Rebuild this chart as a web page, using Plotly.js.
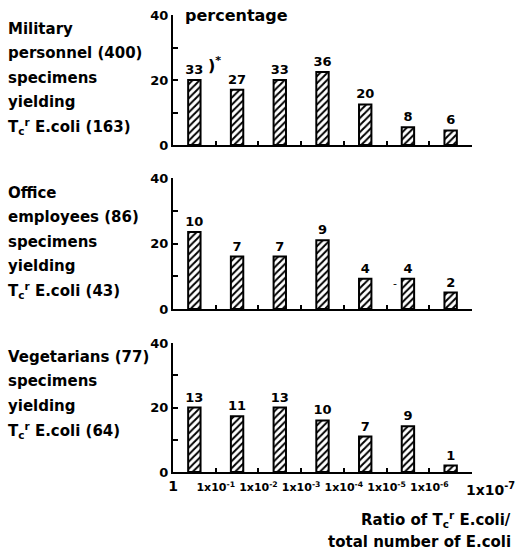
<!DOCTYPE html>
<html><head><meta charset="utf-8">
<script src="https://cdn.plot.ly/plotly-3.0.1.min.js"></script>
<style>html,body{margin:0;padding:0;background:#fff}</style>
</head><body><div id="chart" style="width:517px;height:552px"></div>
<script>
// ---- data ----
const ratioBins = ["1–1x10^-1","1x10^-1–1x10^-2","1x10^-2–1x10^-3","1x10^-3–1x10^-4","1x10^-4–1x10^-5","1x10^-5–1x10^-6","1x10^-6–1x10^-7"];
const edgeLabels = ["1","1x10<sup>-1</sup>","1x10<sup>-2</sup>","1x10<sup>-3</sup>","1x10<sup>-4</sup>","1x10<sup>-5</sup>","1x10<sup>-6</sup>","1x10<sup>-7</sup>"];
const militaryPct = [20, 17, 20, 22.5, 12.5, 5.5, 4.5];
const militaryCounts = [33, 27, 33, 36, 20, 8, 6];
const officePct = [23.5, 16, 16, 21, 9.2, 9.2, 5];
const officeCounts = [10, 7, 7, 9, 4, 4, 2];
const vegetarianPct = [20, 17.3, 20, 16, 11, 14.2, 2];
const vegetarianCounts = [13, 11, 13, 10, 7, 9, 1];
const groupLabels = [
  ["Military","personnel (400)","specimens","yielding","T<sub>c</sub><sup>r</sup> E.coli (163)"],
  ["Office","employees (86)","specimens","yielding","T<sub>c</sub><sup>r</sup> E.coli (43)"],
  ["Vegetarians (77)","specimens","yielding","T<sub>c</sub><sup>r</sup> E.coli (64)"]
];
const yTickVals = [0, 10, 20, 30, 40];
const yTickText = ["0", "", "20", "", "40"];

// ---- layout helpers ----
const W = 517, H = 552, L = 173, R = 45, T = 15, B = 80;
const pw = W - L - R, ph = H - T - B;
const px = x => (x - L) / pw;
const py = y => (H - B - y) / ph;
const FONT = "DejaVu Sans";
const xIdx = ratioBins.map((_, i) => i);
const edges = edgeLabels.map((_, i) => i - 0.5);
const lastEdge = edges.length - 1;

function barTrace(vals, counts, xa, ya) {
  return {
    type: "bar", x: xIdx, y: vals, xaxis: xa, yaxis: ya, width: 0.29,
    text: counts.map(String), textposition: "outside", cliponaxis: false,
    constraintext: "none",
    textfont: {family: FONT, size: 13, color: "#000", weight: "bold"},
    marker: {color: "#fff", line: {color: "#000", width: 2},
      pattern: {shape: "/", fgcolor: "#000", bgcolor: "#fff", size: 5, solidity: 0.4}},
    hoverinfo: "skip"
  };
}
const data = [
  barTrace(militaryPct, militaryCounts, "x", "y"),
  barTrace(officePct, officeCounts, "x2", "y2"),
  barTrace(vegetarianPct, vegetarianCounts, "x3", "y3")
];

function xAxis(anchor, showLabels) {
  const a = {
    anchor: anchor, domain: [0, 1], range: [-0.5, 6.5], showgrid: false, zeroline: false,
    showline: true, linewidth: 2, linecolor: "#000",
    ticks: "inside", ticklen: 4, tickwidth: 2, tickcolor: "#000",
    tickmode: "array", tickvals: edges, ticktext: edges.map(() => ""),
    showticklabels: false, fixedrange: true
  };
  if (showLabels) {
    a.showticklabels = true;
    a.tickangle = 0;
    a.ticktext = edgeLabels.map((t, i) =>
      i === 0 ? '<span style="font-size:14px">' + t + '</span>' : (i === lastEdge ? "" : t));
    a.tickfont = {family: FONT, size: 11, color: "#000", weight: "bold"};
    a.ticklabelstandoff = 4;
  }
  return a;
}
function yAxis(anchor, dom) {
  return {
    anchor: anchor, domain: dom, range: [0, 40], showgrid: false, zeroline: false,
    showline: true, linewidth: 2, linecolor: "#000",
    ticks: "inside", ticklen: 5, tickwidth: 2, tickcolor: "#000",
    tickmode: "array", tickvals: yTickVals, ticktext: yTickText,
    tickfont: {family: FONT, size: 13, color: "#000", weight: "bold"},
    ticklabelstandoff: 0, fixedrange: true
  };
}

const annotations = [];
const lineStarts = [29, 193, 357];
const lineStep = 24.4;
groupLabels.forEach((lines, g) => {
  lines.forEach((t, i) => {
    annotations.push({xref: "paper", yref: "paper", x: px(6), y: py(lineStarts[g] + i * lineStep),
      xanchor: "left", yanchor: "middle", text: t, showarrow: false,
      font: {family: FONT, size: 15, color: "#000", weight: "bold"}});
  });
});
// last ratio edge label, drawn larger and set off to the right of its tick
annotations.push({xref: "x3", yref: "y3", x: edges[lastEdge], y: 0, xanchor: "center", yanchor: "top",
  xshift: 18, yshift: -6, text: edgeLabels[lastEdge], showarrow: false,
  font: {family: FONT, size: 14, color: "#000", weight: "bold"}});
annotations.push({xref: "paper", yref: "paper", x: px(183), y: py(15), xanchor: "left", yanchor: "middle",
  text: "percentage", showarrow: false, font: {family: FONT, size: 16, color: "#000", weight: "bold"}});
annotations.push({xref: "x", yref: "y", x: xIdx[0], y: militaryPct[0], xanchor: "left", yanchor: "bottom",
  xshift: 12, yshift: 3, text: ")<sup>*</sup>", showarrow: false,
  font: {family: FONT, size: 16, color: "#000", weight: "bold"}});
annotations.push({xref: "x2", yref: "y2", x: xIdx[5], y: officePct[5], xanchor: "right", yanchor: "middle",
  xshift: -9, yshift: -5, text: "-", showarrow: false,
  font: {family: FONT, size: 11, color: "#000"}});
annotations.push({xref: "paper", yref: "paper", x: px(513), y: py(519), xanchor: "right", yanchor: "middle",
  text: "Ratio of T<sub>c</sub><sup>r</sup> E.coli/", showarrow: false,
  font: {family: FONT, size: 15, color: "#000", weight: "bold"}});
annotations.push({xref: "paper", yref: "paper", x: px(513), y: py(542), xanchor: "right", yanchor: "middle",
  text: "total number of E.coli", showarrow: false,
  font: {family: FONT, size: 15, color: "#000", weight: "bold"}});

const layout = {
  width: W, height: H, margin: {l: L, r: R, t: T, b: B},
  paper_bgcolor: "#fff", plot_bgcolor: "#fff", showlegend: false,
  font: {family: FONT, color: "#000"},
  xaxis: xAxis("y", false), xaxis2: xAxis("y2", false), xaxis3: xAxis("y3", true),
  yaxis: yAxis("x", [py(145), py(15)]),
  yaxis2: yAxis("x2", [py(309), py(178)]),
  yaxis3: yAxis("x3", [py(472), py(343)]),
  annotations: annotations
};
Plotly.newPlot("chart", data, layout, {staticPlot: true, displayModeBar: false});
</script></body></html>
